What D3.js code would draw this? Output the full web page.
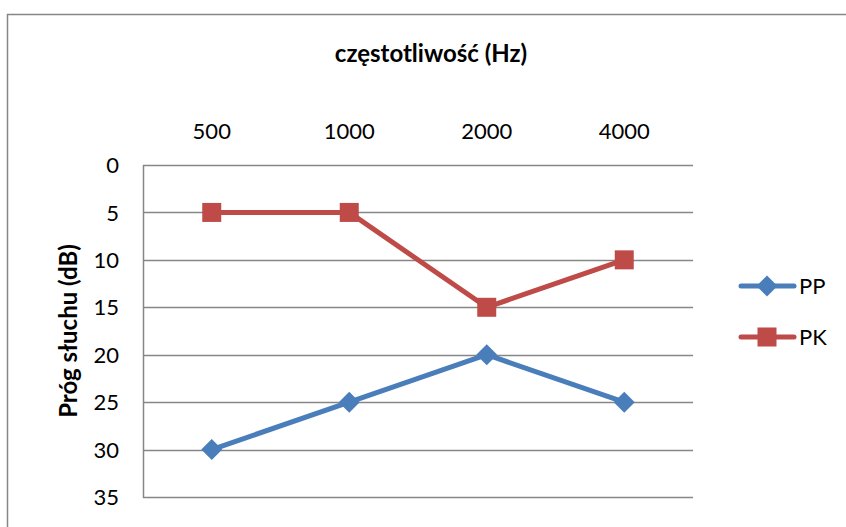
<!DOCTYPE html>
<html>
<head>
<meta charset="utf-8">
<script src="https://cdn.jsdelivr.net/npm/d3@7"></script>
<style>
  html, body { margin: 0; padding: 0; background: #fff; }
  svg { display: block; font-family: Lato, "Open Sans", sans-serif; }
</style>
</head>
<body>
<svg id="chart" width="846" height="527"></svg>
<script>
// Audiogram: hearing threshold per frequency, two series
const frequencies = ["500", "1000", "2000", "4000"];
const seriesNames = ["PP", "PK"];
const valuesPP = [30, 25, 20, 25];
const valuesPK = [5, 5, 15, 10];
const yTicks = [0, 5, 10, 15, 20, 25, 30, 35];
const colors = { PP: "#4A7EBB", PK: "#BE4B48" };

const series = [
  { name: seriesNames[0], values: valuesPP, marker: "diamond" },
  { name: seriesNames[1], values: valuesPK, marker: "square" }
];

const svg = d3.select("#chart");
const plot = { left: 143, right: 693, top: 165, bottom: 497 };

// chart frame
svg.append("path")
  .attr("d", "M7.5,527 L7.5,14.5 L846,14.5")
  .attr("fill", "none").attr("stroke", "#868686").attr("stroke-width", 1.5);

const x = d3.scaleBand().domain(frequencies).range([plot.left, plot.right]);
const y = d3.scaleLinear().domain([0, 35]).range([plot.top, plot.bottom]);

// gridlines
svg.append("g").selectAll("line").data(yTicks).join("line")
  .attr("x1", plot.left).attr("x2", plot.right)
  .attr("y1", d => Math.round(y(d)) + 0.5).attr("y2", d => Math.round(y(d)) + 0.5)
  .attr("stroke", "#868686").attr("stroke-width", 1.3);

// vertical axis line
svg.append("line")
  .attr("x1", plot.left + 0.5).attr("x2", plot.left + 0.5)
  .attr("y1", plot.top).attr("y2", plot.bottom + 1)
  .attr("stroke", "#868686").attr("stroke-width", 1.5);

// y tick labels
const yAxis = d3.axisLeft(y).tickValues(yTicks).tickSize(0).tickPadding(0);
const gy = svg.append("g").attr("transform", `translate(${plot.left - 24},0)`).call(yAxis);
gy.select(".domain").remove();
gy.selectAll("text").attr("font-size", 22).attr("fill", "#000")
  .attr("font-family", "Lato, sans-serif").attr("dy", "0.35em");

// x tick labels at top
const xAxis = d3.axisTop(x).tickSize(0).tickPadding(0);
const gx = svg.append("g").attr("transform", `translate(0,${plot.top - 26})`).call(xAxis);
gx.select(".domain").remove();
gx.selectAll("text").attr("font-size", 22).attr("fill", "#000")
  .attr("font-family", "Lato, sans-serif");

// titles
svg.append("text")
  .attr("x", 431).attr("y", 62)
  .attr("text-anchor", "middle")
  .attr("font-size", 24).attr("font-weight", "bold")
  .text("częstotliwość (Hz)");

svg.append("text")
  .attr("transform", "translate(77,331) rotate(-90)")
  .attr("text-anchor", "middle")
  .attr("font-size", 24).attr("font-weight", "bold")
  .text("Próg słuchu (dB)");

// lines
const line = d3.line()
  .x((d, i) => x(frequencies[i]) + x.bandwidth() / 2)
  .y(d => y(d));

function drawMarker(g, type, cx, cy, color) {
  if (type === "diamond") {
    const r = 10.5;
    g.append("path")
      .attr("d", `M${cx},${cy - r} L${cx + r},${cy} L${cx},${cy + r} L${cx - r},${cy} Z`)
      .attr("fill", color);
  } else {
    const s = 19;
    g.append("rect")
      .attr("x", cx - s / 2).attr("y", cy - s / 2)
      .attr("width", s).attr("height", s)
      .attr("fill", color);
  }
}

series.forEach(s => {
  const g = svg.append("g");
  g.append("path")
    .attr("d", line(s.values))
    .attr("fill", "none")
    .attr("stroke", colors[s.name])
    .attr("stroke-width", 5)
    .attr("stroke-linejoin", "round")
    .attr("stroke-linecap", "round");
  s.values.forEach((v, i) => {
    drawMarker(g, s.marker, x(frequencies[i]) + x.bandwidth() / 2, y(v), colors[s.name]);
  });
});

// legend
const legend = svg.append("g");
series.forEach((s, i) => {
  const ly = 286 + i * 51;
  legend.append("line")
    .attr("x1", 741).attr("x2", 794)
    .attr("y1", ly).attr("y2", ly)
    .attr("stroke", colors[s.name]).attr("stroke-width", 5)
    .attr("stroke-linecap", "round");
  drawMarker(legend, s.marker, 767, ly, colors[s.name]);
  legend.append("text")
    .attr("x", 799).attr("y", ly).attr("dy", "0.35em")
    .attr("font-size", 22)
    .text(s.name);
});
</script>
</body>
</html>
